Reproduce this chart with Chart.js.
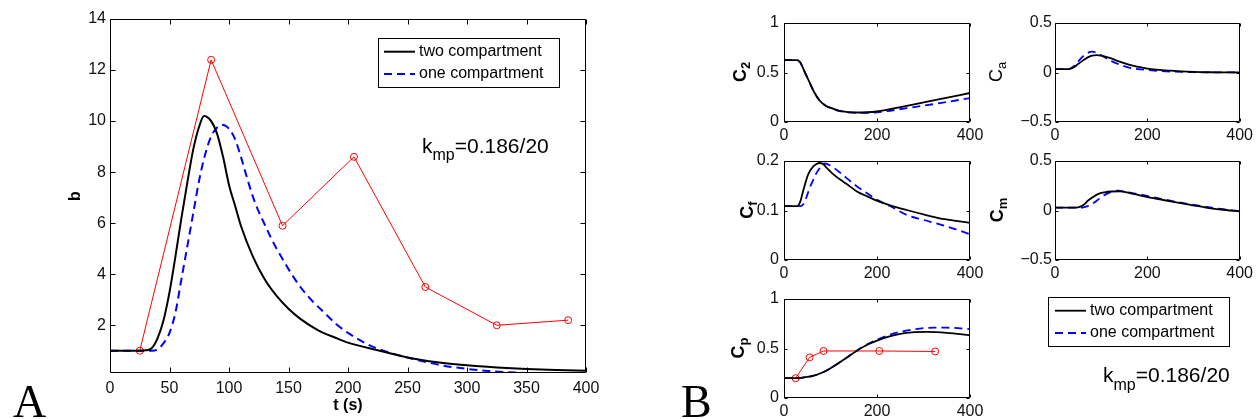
<!DOCTYPE html>
<html><head><meta charset="utf-8">
<script src="https://cdn.jsdelivr.net/npm/chart.js@4/dist/chart.umd.min.js"></script>
<style>
html,body{margin:0;padding:0;background:#fff;}
#wrap{position:relative;width:1257px;height:419px;overflow:hidden;background:#fff;}
#wrap canvas{position:absolute;left:0;top:0;}
</style></head><body>
<div id="wrap">
<canvas id="cA" width="1257" height="419"></canvas>
<canvas id="cC2" width="1257" height="419"></canvas>
<canvas id="cCa" width="1257" height="419"></canvas>
<canvas id="cCf" width="1257" height="419"></canvas>
<canvas id="cCm" width="1257" height="419"></canvas>
<canvas id="cCp" width="1257" height="419"></canvas>
</div>
<script>
// ---------- Panel A data ----------
const xTicksA = [0, 50, 100, 150, 200, 250, 300, 350, 400];
const yTicksA = [2, 4, 6, 8, 10, 12, 14];
const tTwoA = [0,20,30,35,40,45,50,55,60,65,70,75,79,85,90,95,100,105,110,120,130,140,150,160,175,190,200,225,250,275,300,325,350,375,400];
const bTwoA = [1.0,1.0,1.02,1.1,1.5,2.2,3.3,4.7,6.2,7.6,8.9,9.8,10.2,10.0,9.5,8.6,7.5,6.7,5.9,4.7,3.8,3.15,2.65,2.25,1.8,1.5,1.32,1.02,0.74,0.55,0.43,0.35,0.29,0.25,0.22];
const tOneA = [0,35,40,45,50,55,60,65,70,75,80,85,90,95,100,105,110,115,120,125,130,135,140,145,150,160,170,180,190,200,210,220,240,260,280,300,320,340,360,380,400];
const bOneA = [1.0,1.0,1.05,1.3,1.7,2.5,3.8,5.1,6.4,7.7,8.7,9.4,9.75,9.85,9.7,9.3,8.6,7.8,7.05,6.45,5.95,5.45,5.0,4.6,4.2,3.5,2.95,2.5,2.05,1.7,1.42,1.17,0.86,0.62,0.42,0.29,0.2,0.15,0.11,0.08,0.06];
const tRedA = [25, 85, 145, 205, 265, 325, 385];
const bRedA = [1.0, 12.4, 5.9, 8.6, 3.5, 2.0, 2.2];

// ---------- Panel B data ----------
const tTicksB = [0, 200, 400];
const c2Ticks = [0, 0.5, 1];
const caTicks = [-0.5, 0, 0.5];
const cfTicks = [0, 0.1, 0.2];
const cmTicks = [-0.5, 0, 0.5];
const cpTicks = [0, 0.5, 1];

const tC2two = [0,28,35,45,55,65,77,88,98,120,156,199,264,335,400];
const vC2two = [0.625,0.625,0.6,0.5,0.40,0.3,0.215,0.17,0.147,0.113,0.096,0.106,0.164,0.232,0.293];
const tC2one = [0,28,35,45,55,65,77,88,98,120,160,200,264,335,400];
const vC2one = [0.625,0.625,0.6,0.5,0.40,0.3,0.215,0.17,0.145,0.11,0.092,0.098,0.14,0.19,0.242];

const tCatwo = [0,30,40,50,60,70,80,90,100,120,140,160,180,200,250,300,350,400];
const vCatwo = [0.035,0.035,0.05,0.085,0.12,0.15,0.17,0.175,0.17,0.145,0.11,0.08,0.058,0.04,0.018,0.006,0.002,0.0];
const tCaone = [0,30,40,50,60,70,80,90,100,120,140,160,180,200,250,300,400];
const vCaone = [0.035,0.035,0.06,0.11,0.16,0.195,0.21,0.2,0.175,0.12,0.08,0.05,0.035,0.025,0.01,0.003,0.0];

const tCftwo = [0,28,35,41,52,62,70,77,84,91,105,120,140,156,180,199,230,264,300,335,370,400];
const vCftwo = [0.109,0.109,0.118,0.139,0.173,0.188,0.194,0.196,0.194,0.187,0.174,0.163,0.15,0.139,0.128,0.12,0.11,0.101,0.092,0.084,0.079,0.075];
const tCfone = [0,36,42,48,55,62,70,77,83,88,95,106,120,134,155,177,199,228,264,300,335,370,400];
const vCfone = [0.109,0.109,0.113,0.126,0.145,0.16,0.176,0.186,0.193,0.195,0.193,0.187,0.177,0.166,0.15,0.136,0.122,0.109,0.091,0.081,0.072,0.062,0.052];

const tCmtwo = [0,45,55,63,71,82,93,107,121,142,170,199,230,263,295,327,360,400];
const vCmtwo = [0.03,0.03,0.04,0.06,0.098,0.135,0.165,0.183,0.192,0.193,0.167,0.138,0.11,0.081,0.055,0.03,0.01,-0.01];
const tCmone = [0,60,71,78,85,96,107,121,135,165,199,230,263,295,327,360,400];
const vCmone = [0.03,0.03,0.045,0.06,0.08,0.12,0.155,0.185,0.2,0.178,0.148,0.118,0.087,0.06,0.037,0.015,-0.007];

const tCptwo = [0,30,45,60,84,100,120,140,156,180,200,225,250,275,307,350,400];
const vCptwo = [0.2,0.2,0.21,0.22,0.26,0.3,0.36,0.425,0.475,0.54,0.58,0.62,0.648,0.663,0.667,0.658,0.633];
const tCpone = [0,30,45,60,84,100,120,140,156,180,200,225,250,275,300,325,350,375,400];
const vCpone = [0.2,0.2,0.21,0.22,0.26,0.3,0.36,0.425,0.478,0.545,0.59,0.635,0.668,0.69,0.705,0.71,0.71,0.705,0.695];
const tCpRed = [25, 55, 85, 205, 325];
const vCpRed = [0.2, 0.41, 0.475, 0.475, 0.47];

const legendLabels = ['two compartment', 'one compartment'];

// ---------- helpers ----------
const FONT = '"Liberation Sans", Arial, Helvetica, sans-serif';
const SERIF = '"Liberation Serif", "Times New Roman", serif';
const W = 1257, H = 419;

function pts(xs, ys) { return xs.map((x, i) => ({ x: x, y: ys[i] })); }
function curve(label, xs, ys, color, dash, width) {
  return { label: label, data: pts(xs, ys), borderColor: color, backgroundColor: color,
    borderWidth: width, borderDash: dash, pointRadius: 0, pointHoverRadius: 0,
    cubicInterpolationMode: 'monotone', fill: false };
}
function markers(label, xs, ys, r) {
  return { label: label, data: pts(xs, ys), borderColor: '#ff0000', backgroundColor: 'rgba(0,0,0,0)',
    borderWidth: 1, pointRadius: r, pointBorderWidth: 1, pointBackgroundColor: 'rgba(0,0,0,0)',
    pointBorderColor: '#ff0000', tension: 0, fill: false };
}
function fmt(v) {
  if (Math.abs(v) < 1e-9) return '0';
  const s = String(Math.round(Math.abs(v) * 1000) / 1000);
  return v < 0 ? '\u2212' + s : s;
}

const framePlugin = {
  id: 'frame',
  afterDatasetsDraw(chart, args, opts) {
    const ctx = chart.ctx, a = chart.chartArea, sx = chart.scales.x, sy = chart.scales.y;
    const L = opts.len || 4;
    const l = Math.round(a.left) + 0.5, r = Math.round(a.right) - 0.5;
    const t = Math.round(a.top) + 0.5, b = Math.round(a.bottom) - 0.5;
    ctx.save();
    ctx.strokeStyle = '#000'; ctx.lineWidth = 1; ctx.setLineDash([]);
    ctx.beginPath();
    ctx.rect(l, t, r - l, b - t);
    sx.ticks.forEach(tk => {
      const p = Math.round(sx.getPixelForValue(tk.value)) + 0.5;
      ctx.moveTo(p, b); ctx.lineTo(p, b - L); ctx.moveTo(p, t); ctx.lineTo(p, t + L);
    });
    sy.ticks.forEach(tk => {
      const p = Math.round(sy.getPixelForValue(tk.value)) + 0.5;
      ctx.moveTo(l, p); ctx.lineTo(l + L, p); ctx.moveTo(r, p); ctx.lineTo(r - L, p);
    });
    ctx.stroke();
    ctx.restore();
  }
};

function drawLegend(ctx, ds, box, rows, lx, tx) {
  ctx.save();
  ctx.fillStyle = '#fff';
  ctx.fillRect(box[0], box[1], box[2] - box[0], box[3] - box[1]);
  ctx.strokeStyle = '#000'; ctx.lineWidth = 1; ctx.setLineDash([]);
  ctx.strokeRect(box[0] + 0.5, box[1] + 0.5, box[2] - box[0], box[3] - box[1]);
  rows.forEach((y, i) => {
    const d = ds[i];
    ctx.strokeStyle = d.borderColor; ctx.lineWidth = d.borderWidth;
    ctx.setLineDash(d.borderDash || []);
    ctx.beginPath(); ctx.moveTo(lx[0], y); ctx.lineTo(lx[1], y); ctx.stroke();
    ctx.setLineDash([]);
    ctx.fillStyle = '#000'; ctx.font = '16px ' + FONT;
    ctx.textBaseline = 'middle'; ctx.textAlign = 'left';
    ctx.fillText(d.label, tx, y);
  });
  ctx.restore();
}

function drawK(ctx, x, base, subBase) {
  ctx.save();
  ctx.fillStyle = '#000'; ctx.textBaseline = 'alphabetic'; ctx.textAlign = 'left';
  ctx.font = '21px ' + FONT;
  ctx.fillText('k', x, base);
  const wk = ctx.measureText('k').width;
  ctx.font = '16px ' + FONT;
  ctx.fillText('mp', x + wk, subBase);
  const wm = ctx.measureText('mp').width;
  ctx.font = '21px ' + FONT;
  ctx.fillText('=0.186/20', x + wk + wm, base);
  ctx.restore();
}

function subLabel(ctx, xb, cy, main, sub, bold) {
  const w = bold ? 'bold ' : '';
  ctx.save();
  ctx.fillStyle = '#000'; ctx.textBaseline = 'alphabetic'; ctx.textAlign = 'left';
  ctx.font = w + '18px ' + FONT;
  const w1 = ctx.measureText(main).width;
  ctx.font = w + '13px ' + FONT;
  const w2 = ctx.measureText(sub).width;
  const total = w1 + w2;
  ctx.translate(xb, cy);
  ctx.rotate(-Math.PI / 2);
  ctx.font = w + '18px ' + FONT;
  ctx.fillText(main, -total / 2, 0);
  ctx.font = w + '13px ' + FONT;
  ctx.fillText(sub, -total / 2 + w1, 4);
  ctx.restore();
}

function makeChart(id, c) {
  const yW = c.yW || 60, xH = c.xH || 30;
  const tickFont = { family: FONT, size: 16 };
  const titleFont = { family: FONT, size: 16, weight: 'bold' };
  return new Chart(document.getElementById(id), {
    type: 'line',
    data: { datasets: c.datasets },
    options: {
      responsive: false, maintainAspectRatio: false, animation: false, devicePixelRatio: 1,
      events: [],
      layout: { padding: { left: c.l - yW, top: c.t, right: W - c.r, bottom: H - c.b - xH } },
      plugins: { legend: { display: false }, tooltip: { enabled: false }, title: { display: false },
                 frame: { len: c.tickLen } },
      scales: {
        x: {
          type: 'linear', min: 0, max: 400,
          afterBuildTicks: s => { s.ticks = c.xTicks.map(v => ({ value: v })); },
          afterFit: s => { s.height = xH; },
          grid: { display: false, drawTicks: false }, border: { display: false },
          ticks: { padding: c.xPad, color: '#111', font: tickFont, maxRotation: 0, minRotation: 0,
                   autoSkip: false, callback: v => fmt(v) },
          title: c.xTitle ? { display: true, text: c.xTitle, color: '#000', font: titleFont,
                              padding: { top: 0, bottom: 4 } } : { display: false }
        },
        y: {
          type: 'linear', min: c.yMin, max: c.yMax,
          afterBuildTicks: s => { s.ticks = c.yTicks.map(v => ({ value: v })); },
          afterFit: s => { s.width = yW; },
          grid: { display: false, drawTicks: false }, border: { display: false },
          ticks: { padding: c.yPad, color: '#111', font: tickFont, autoSkip: false,
                   callback: v => fmt(v) },
          title: c.yTitle ? { display: true, text: c.yTitle, color: '#000', font: titleFont,
                              padding: { top: 16, bottom: 0 } } : { display: false }
        }
      }
    },
    plugins: [framePlugin].concat(c.plugins || [])
  });
}

const BLUE = '#0000ff', BLACK = '#000000', DASH = [8, 5];

// ---------- Panel A ----------
makeChart('cA', {
  l: 110, t: 19, r: 586, b: 373, yW: 60, xH: 46,
  xTicks: xTicksA, yTicks: yTicksA, yMin: 0.13, yMax: 14,
  tickLen: 5, xPad: 6, yPad: 4, xTitle: 't (s)', yTitle: 'b',
  datasets: [
    curve(legendLabels[0], tTwoA, bTwoA, BLACK, [], 2),
    curve(legendLabels[1], tOneA, bOneA, BLUE, DASH, 2),
    markers('data', tRedA, bRedA, 3.5)
  ],
  plugins: [{
    id: 'overlayA',
    afterDraw(chart) {
      const ctx = chart.ctx;
      drawLegend(ctx, chart.data.datasets, [378, 38, 559, 87], [51.7, 74], [384, 415], 419);
      drawK(ctx, 422, 153, 160);
      ctx.save();
      ctx.fillStyle = '#000'; ctx.font = '46px ' + SERIF; ctx.textBaseline = 'alphabetic';
      ctx.fillText('A', 13, 417);
      ctx.restore();
    }
  }]
});

// ---------- Panel B ----------
const colL = [784, 970], colR = [1055, 1241];
const row1 = [23, 122], row2 = [161, 260], row3 = [299, 398];

makeChart('cC2', {
  l: colL[0], r: colL[1], t: row1[0], b: row1[1],
  xTicks: tTicksB, yTicks: c2Ticks, yMin: 0, yMax: 1, tickLen: 3, xPad: 4, yPad: 5,
  datasets: [curve(legendLabels[0], tC2two, vC2two, BLACK, [], 1.8),
             curve(legendLabels[1], tC2one, vC2one, BLUE, DASH, 1.8)],
  plugins: [{ id: 'lab2', afterDraw(ch) { subLabel(ch.ctx, 746, 72, 'C', '2', true); } }]
});
makeChart('cCa', {
  l: colR[0], r: colR[1], t: row1[0], b: row1[1],
  xTicks: tTicksB, yTicks: caTicks, yMin: -0.5, yMax: 0.5, tickLen: 3, xPad: 4, yPad: 3,
  datasets: [curve(legendLabels[0], tCatwo, vCatwo, BLACK, [], 1.8),
             curve(legendLabels[1], tCaone, vCaone, BLUE, DASH, 1.8)],
  plugins: [{ id: 'laba', afterDraw(ch) { subLabel(ch.ctx, 1002, 72, 'C', 'a', false); } }]
});
makeChart('cCf', {
  l: colL[0], r: colL[1], t: row2[0], b: row2[1],
  xTicks: tTicksB, yTicks: cfTicks, yMin: 0, yMax: 0.2, tickLen: 3, xPad: 4, yPad: 5,
  datasets: [curve(legendLabels[0], tCftwo, vCftwo, BLACK, [], 1.8),
             curve(legendLabels[1], tCfone, vCfone, BLUE, DASH, 1.8)],
  plugins: [{ id: 'labf', afterDraw(ch) { subLabel(ch.ctx, 753, 210, 'C', 'f', true); } }]
});
makeChart('cCm', {
  l: colR[0], r: colR[1], t: row2[0], b: row2[1],
  xTicks: tTicksB, yTicks: cmTicks, yMin: -0.5, yMax: 0.5, tickLen: 3, xPad: 4, yPad: 3,
  datasets: [curve(legendLabels[0], tCmtwo, vCmtwo, BLACK, [], 1.8),
             curve(legendLabels[1], tCmone, vCmone, BLUE, DASH, 1.8)],
  plugins: [{ id: 'labm', afterDraw(ch) {
    subLabel(ch.ctx, 1003, 210, 'C', 'm', true);
    drawLegend(ch.ctx, ch.data.datasets, [1048, 297, 1229, 346], [310.7, 333], [1055, 1086], 1090);
    drawK(ch.ctx, 1103, 382, 390);
  } }]
});
makeChart('cCp', {
  l: colL[0], r: colL[1], t: row3[0], b: row3[1], xH: 21,
  xTicks: tTicksB, yTicks: cpTicks, yMin: 0, yMax: 1, tickLen: 3, xPad: 4, yPad: 5,
  datasets: [curve(legendLabels[0], tCptwo, vCptwo, BLACK, [], 1.8),
             curve(legendLabels[1], tCpone, vCpone, BLUE, DASH, 1.8),
             markers('data', tCpRed, vCpRed, 3.5)],
  plugins: [{ id: 'labp', afterDraw(ch) {
    subLabel(ch.ctx, 744, 348, 'C', 'p', true);
    const ctx = ch.ctx;
    ctx.save();
    ctx.fillStyle = '#000'; ctx.font = '46px ' + SERIF; ctx.textBaseline = 'alphabetic';
    ctx.fillText('B', 681, 417);
    ctx.restore();
  } }]
});
</script>
</body></html>
